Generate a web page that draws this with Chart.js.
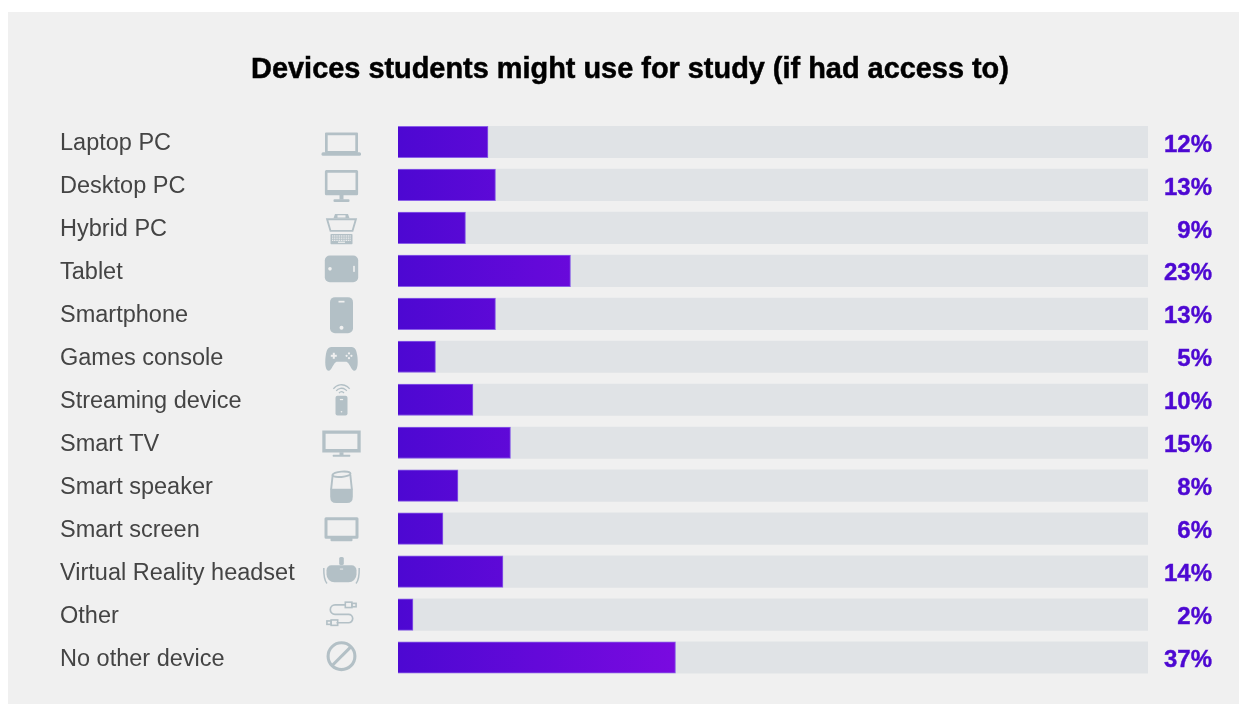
<!DOCTYPE html>
<html>
<head>
<meta charset="utf-8">
<title>Devices students might use for study</title>
<script src="https://cdn.jsdelivr.net/npm/chart.js@4"></script>
<style>
  html, body { margin: 0; padding: 0; background: #fff; overflow: hidden; }
  #wrap { width: 1239px; height: 704px; position: relative; }
  canvas { display: block; }
</style>
</head>
<body>
<div id="wrap"><canvas id="chart" width="1239" height="704"></canvas></div>
<script>
const chartTitle = 'Devices students might use for study (if had access to)';
const categories = ['Laptop PC', 'Desktop PC', 'Hybrid PC', 'Tablet', 'Smartphone', 'Games console',
  'Streaming device', 'Smart TV', 'Smart speaker', 'Smart screen', 'Virtual Reality headset', 'Other', 'No other device'];
const shares = [12, 13, 9, 23, 13, 5, 10, 15, 8, 6, 14, 2, 37];
const trackValues = [100, 100, 100, 100, 100, 100, 100, 100, 100, 100, 100, 100, 100];

const PANEL = '#f0f0f0';
const ICON = '#b3c0c6';
const VIOLET = '#4d08d2';
const VIOLET_END = '#7a0ae0';
const SANS = '"Liberation Sans", Arial, sans-serif';

function rrect(c, x, y, w, h, r) { c.beginPath(); c.roundRect(x, y, w, h, r); }
function fillR(c, x, y, w, h, r) { rrect(c, x, y, w, h, r || 0); c.fill(); }
function frame(c, x0, y0, x1, y1, ix0, iy0, ix1, iy1, r) {
  c.beginPath();
  c.roundRect(x0, y0, x1 - x0, y1 - y0, r || 0);
  c.rect(ix0, iy0, ix1 - ix0, iy1 - iy0);
  c.fill('evenodd');
}
function dot(c, x, y, r) { c.beginPath(); c.arc(x, y, r, 0, Math.PI * 2); c.fill(); }

// Device pictograms, one per category, drawn around the row centre.
const icons = [
  function laptop(c) {
    frame(c, -16.5, -9.5, 16.5, 11, -13.8, -6.8, 13.8, 9, 1);
    fillR(c, -20, 10.3, 39.5, 3.4, 1.5);
  },
  function desktop(c) {
    frame(c, -16.6, -15, 16.6, 10.3, -14, -12.3, 14, 5, 1.5);
    c.fillRect(-2, 10, 4, 4.6);
    fillR(c, -8, 14.3, 16, 2.7, 1);
  },
  function hybrid(c) {
    c.beginPath();
    c.moveTo(-8, -9.7); c.lineTo(-6.5, -14); c.lineTo(6.5, -14); c.lineTo(8, -9.7); c.closePath();
    c.moveTo(-4, -12.6); c.lineTo(-4, -10.4); c.lineTo(4, -10.4); c.lineTo(4, -12.6); c.closePath();
    c.fill('evenodd');
    c.lineWidth = 1.9;
    c.beginPath();
    c.moveTo(-14.4, -8.7); c.lineTo(14.4, -8.7); c.lineTo(11, 3); c.lineTo(-11, 3); c.closePath();
    c.stroke();
    fillR(c, -11, 6, 22, 10.3, 0.8);
    c.fillStyle = PANEL;
    for (let r = 0; r < 3; r++) {
      for (let k = 0; k < 11; k++) c.fillRect(-9.4 + k * 1.75, 7.4 + r * 2.2, 1.05, 1.3);
    }
    c.fillRect(-3.5, 13.8, 7, 1.1);
  },
  function tablet(c) {
    fillR(c, -16.7, -15.3, 33.4, 26.6, 5);
    c.fillStyle = PANEL;
    dot(c, -11.5, -2, 1.8);
    c.fillRect(11.7, -5, 1.6, 6);
  },
  function smartphone(c) {
    fillR(c, -11.5, -16.7, 23, 36, 5);
    c.fillStyle = PANEL;
    c.fillRect(-3, -13, 6, 1.7);
    dot(c, 0, 14, 2);
  },
  function gamepad(c) {
    c.beginPath();
    c.moveTo(-10, -9.7);
    c.lineTo(10, -9.7);
    c.bezierCurveTo(14, -9.7, 15, -6, 15.8, -1);
    c.bezierCurveTo(16.5, 4, 16.8, 13.5, 13, 14);
    c.bezierCurveTo(10, 14.3, 8, 6, 5, 5);
    c.lineTo(-5, 5);
    c.bezierCurveTo(-8, 6, -10, 14.3, -13, 14);
    c.bezierCurveTo(-16.8, 13.5, -16.5, 4, -15.8, -1);
    c.bezierCurveTo(-15, -6, -14, -9.7, -10, -9.7);
    c.closePath();
    c.fill();
    c.fillStyle = PANEL;
    c.fillRect(-10.7, -2, 6, 2);
    c.fillRect(-8.7, -4, 2, 6);
    dot(c, 7.5, -3.4, 1.1); dot(c, 7.5, 1.4, 1.1); dot(c, 5.1, -1, 1.1); dot(c, 9.9, -1, 1.1);
  },
  function streamer(c) {
    fillR(c, -6, -4, 12, 19.7, 2);
    c.lineWidth = 1.3;
    [3, 6.5, 10].forEach(function (radius) {
      c.beginPath();
      c.arc(0, -5, radius, -Math.PI / 2 - 0.95, -Math.PI / 2 + 0.95);
      c.stroke();
    });
    c.fillStyle = PANEL;
    c.fillRect(-1.6, -0.8, 3.2, 1.2);
    dot(c, 0, 12, 0.8);
  },
  function television(c) {
    frame(c, -19.2, -12.3, 19.2, 9.7, -15.9, -9, 15.9, 6.4);
    c.fillRect(-2, 9.5, 4, 3);
    fillR(c, -8.7, 12, 17.4, 2, 0.5);
  },
  function speaker(c) {
    c.lineWidth = 1.9;
    c.beginPath();
    c.moveTo(-8.8, -11); c.lineTo(-10.4, 4); c.moveTo(8.8, -11); c.lineTo(10.4, 4);
    c.stroke();
    c.beginPath();
    c.ellipse(0, -11.4, 9, 2.7, -0.08, 0, Math.PI * 2);
    c.stroke();
    c.beginPath();
    c.moveTo(-11.3, 3);
    c.lineTo(11.3, 3);
    c.lineTo(11.3, 11);
    c.quadraticCurveTo(11.3, 17.3, 5.5, 17.3);
    c.lineTo(-5.5, 17.3);
    c.quadraticCurveTo(-11.3, 17.3, -11.3, 11);
    c.closePath();
    c.fill();
  },
  function smartScreen(c) {
    frame(c, -17, -11.3, 17, 10, -14, -8.3, 14, 7, 1.5);
    fillR(c, -11, 9, 22, 3.7, 1);
  },
  function headset(c) {
    fillR(c, -2.3, -14.7, 4.6, 8, 1.5);
    fillR(c, -15, -6.3, 30, 17, [5, 5, 8, 8]);
    c.lineWidth = 1.5;
    [-1, 1].forEach(function (side) {
      c.beginPath();
      c.moveTo(side * 17.7, -3.5);
      c.quadraticCurveTo(side * 18, 8, side * 14.5, 12);
      c.stroke();
    });
    c.fillStyle = PANEL;
    c.fillRect(-1.6, -3, 3.2, 0.9);
  },
  function cable(c) {
    c.lineWidth = 1.7;
    c.beginPath();
    c.moveTo(4, -9.6);
    c.lineTo(-6.5, -9.6);
    c.arc(-6.5, -4.9, 4.7, -Math.PI / 2, Math.PI / 2, true);
    c.lineTo(7, -0.2);
    c.arc(7, 4, 4.2, -Math.PI / 2, Math.PI / 2);
    c.lineTo(-5, 8.2);
    c.stroke();
    c.lineWidth = 1.6;
    c.strokeRect(3.8, -12.4, 6.6, 5.4);
    c.strokeRect(10.4, -11.2, 4.2, 3.4);
    c.strokeRect(-10.4, 5.4, 6.6, 5.4);
    c.strokeRect(-14.6, 6.4, 4.2, 3.4);
  },
  function prohibited(c) {
    c.lineWidth = 3.1;
    c.beginPath();
    c.arc(0, -1.3, 13.4, 0, Math.PI * 2);
    c.stroke();
    c.beginPath();
    c.moveTo(-9.3, 8); c.lineTo(9.3, -10.6);
    c.stroke();
  }
];

const panelPlugin = {
  id: 'panel',
  beforeDraw(chart) {
    const c = chart.ctx;
    c.save();
    c.fillStyle = '#fff';
    c.fillRect(0, 0, chart.width, chart.height);
    c.fillStyle = PANEL;
    c.fillRect(8, 12, chart.width - 8, chart.height - 12);
    c.restore();
  }
};

// Heading, pictograms and the percentage column sit outside the plot area.
const rowDecorPlugin = {
  id: 'rowDecor',
  afterDraw(chart) {
    const c = chart.ctx;
    const y = chart.scales.y;
    const area = chart.chartArea;

    c.save();
    c.fillStyle = '#000';
    c.strokeStyle = '#000';
    c.lineWidth = 0.5;
    c.font = 'bold 28.9px ' + SANS;
    c.textAlign = 'center';
    c.textBaseline = 'middle';
    c.fillText(chartTitle, 630, 70);
    c.strokeText(chartTitle, 630, 70);
    c.restore();

    categories.forEach(function (name, i) {
      const cy = y.getPixelForValue(i);
      c.save();
      c.translate(area.left - 56.5, cy);
      c.fillStyle = ICON;
      c.strokeStyle = ICON;
      icons[i](c);
      c.restore();

      c.save();
      c.fillStyle = VIOLET;
      c.strokeStyle = VIOLET;
      c.lineWidth = 0.4;
      c.font = 'bold 24px ' + SANS;
      c.textAlign = 'right';
      c.textBaseline = 'middle';
      c.fillText(shares[i] + '%', area.right + 64, cy + 3);
      c.strokeText(shares[i] + '%', area.right + 64, cy + 3);
      c.restore();
    });
  }
};

function barFill(ctx) {
  const chart = ctx.chart;
  if (!chart.chartArea) return VIOLET;
  const x = chart.scales.x;
  const g = chart.ctx.createLinearGradient(x.getPixelForValue(0), 0, x.getPixelForValue(37), 0);
  g.addColorStop(0, VIOLET);
  g.addColorStop(1, VIOLET_END);
  return g;
}

new Chart(document.getElementById('chart'), {
  type: 'bar',
  data: {
    labels: categories,
    datasets: [
      { label: 'Share of students', data: shares, order: 0, grouped: false, barThickness: 31.5,
        backgroundColor: barFill, borderColor: '#8a5fe8', borderWidth: 1 },
      { label: 'Scale', data: trackValues, order: 1, grouped: false, barThickness: 31.5,
        backgroundColor: '#e0e3e6', borderWidth: 0 }
    ]
  },
  plugins: [panelPlugin, rowDecorPlugin],
  options: {
    indexAxis: 'y',
    responsive: false,
    maintainAspectRatio: false,
    animation: false,
    devicePixelRatio: 1,
    layout: { padding: { left: 60, right: 91, top: 120.5, bottom: 25 } },
    scales: {
      x: { display: false, min: 0, max: 100, grid: { display: false } },
      y: {
        grid: { display: false },
        border: { display: false },
        afterFit(axis) { axis.width = 338; },
        ticks: {
          crossAlign: 'far',
          color: '#444',
          autoSkip: false,
          // A blank first line with a tiny line height sits the label a touch lower in its row.
          callback(value) { return ['', this.getLabelForValue(value)]; },
          font: { family: SANS, size: 23.5, lineHeight: '3px' }
        }
      }
    },
    plugins: {
      legend: { display: false },
      tooltip: { enabled: false },
      title: { display: false }
    }
  }
});
</script>
</body>
</html>
